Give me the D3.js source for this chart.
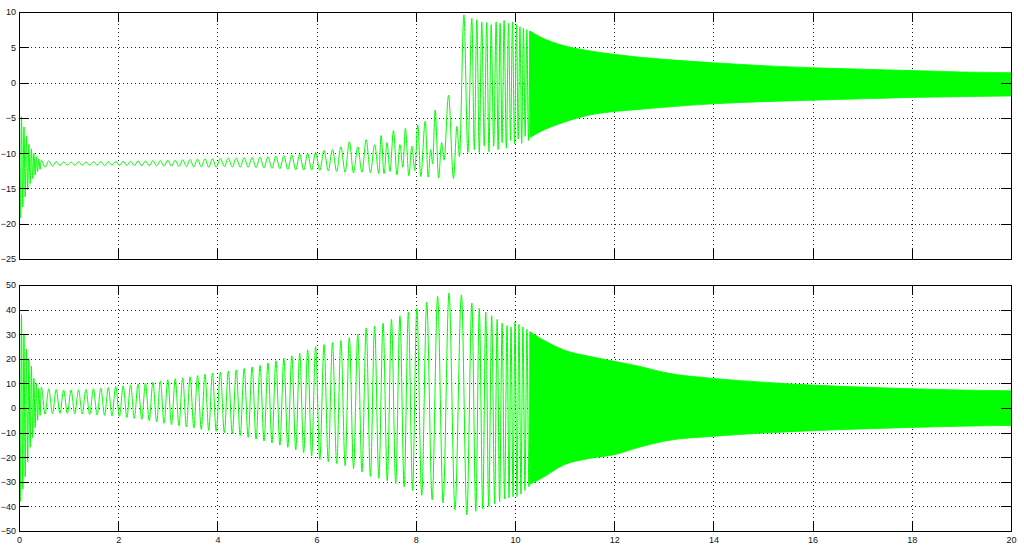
<!DOCTYPE html>
<html><head><meta charset="utf-8">
<script src="https://cdn.jsdelivr.net/npm/d3@7"></script>
<style>
html,body{margin:0;padding:0;background:#fff;}
svg{display:block;}
text{font-family:"Liberation Sans",Arial,sans-serif;}
</style></head>
<body><svg id="c" width="1024" height="549"></svg>
<script>
// ---------- data ----------
const xTicks = [0,2,4,6,8,10,12,14,16,18,20];
const topYTicks = [-25,-20,-15,-10,-5,0,5,10];
const botYTicks = [-50,-40,-30,-20,-10,0,10,20,30,40,50];

// Top signal: successive extremes (time, value) of the sparse part
const topT = [0,0.025,0.05,0.075,0.1,0.125,0.15,0.175,0.2,0.225,0.25,0.275,0.3,0.325,0.35,0.375,0.4,0.425,
 0.45,0.525,0.6,0.675,0.75,0.825,0.9,0.975,1.05,1.125,1.2,1.275,1.35,1.425,1.5,1.575,1.65,1.725,1.8,1.875,1.95,2.025,
 2.1,2.175,2.25,2.325,2.4,2.475,2.55,2.625,2.7,2.775,2.85,2.925,3.0,3.075,3.15,3.225,3.3,3.375,3.45,3.525,3.6,3.675,3.75,3.825,3.9,3.975,
 4.06,4.14,4.22,4.3,4.38,4.46,4.54,4.62,4.7,4.78,4.86,4.94,5.02,5.1,5.18,5.26,5.34,5.42,5.5,5.58,5.66,5.74,5.82,5.9,5.98,6.065,
 6.15,6.235,6.32,6.405,6.49,6.575,6.66,6.745,6.83,6.915,7.0,7.085,7.17,7.255,
 7.30,7.36,7.42,7.48,7.55,7.62,7.68,7.74,7.79,7.86,7.92,7.98,8.04,8.10,8.19,8.25,8.30,8.34,8.39,8.46,8.52,8.57,8.66,8.76,8.83,8.88,
 8.97,9.05,9.13,9.18,9.23,9.28,9.33,9.38,9.43,9.475,9.52,9.57,9.62,9.66,9.70,9.74,9.78,9.825,9.87,9.91,9.95,9.99,10.03,10.065,10.10,10.135,10.17,10.205,10.24,10.27,10.30];
const topV = [0,-19.2,-4.8,-17.6,-6.3,-16.2,-7.6,-15.2,-8.7,-14.3,-9.4,-13.6,-10.0,-13.1,-10.5,-12.6,-10.8,-12.3,
 -11.0,-12.0,-11.1,-11.85,-11.2,-11.75,-11.25,-11.7,-11.25,-11.7,-11.2,-11.7,-11.25,-11.7,-11.2,-11.7,-11.2,-11.75,-11.2,-11.7,-11.15,-11.75,
 -11.15,-11.75,-11.15,-11.75,-11.1,-11.8,-11.1,-11.8,-11.05,-11.8,-11.05,-11.85,-11.0,-11.85,-11.0,-11.9,-10.95,-11.9,-10.9,-11.95,-10.85,-11.95,-10.8,-12.0,-10.8,-12.0,
 -10.75,-11.9,-10.7,-11.95,-10.7,-12.0,-10.65,-12.0,-10.6,-12.05,-10.55,-12.1,-10.5,-12.15,-10.45,-12.2,-10.35,-12.3,-10.25,-12.35,-10.15,-12.4,-10.05,-12.4,-9.9,-12.45,
 -9.6,-12.5,-9.5,-12.6,-9.1,-12.7,-8.4,-12.8,-9.1,-12.7,-8.1,-12.8,-8.8,-12.9,
 -7.5,-12.9,-8.5,-12.6,-6.8,-13.1,-8.8,-12.0,-6.5,-13.2,-9.0,-12.5,-6.0,-13.3,-5.5,-13.4,-9.5,-11.5,-3.9,-13.5,-8.5,-11.0,-1.8,-13.6,-6.2,-10.5,
 9.6,-9.9,9.1,-9.5,8.9,-9.9,8.6,-9.0,8.5,-9.8,8.2,-9.0,8.6,-9.5,8.4,-8.5,8.8,-9.3,8.4,-8.2,8.6,-8.7,8.2,-8.0,7.9,-8.6,7.7,-7.6,7.5,-8.2,7.3];
// Top signal: envelope of the dense part
const topEnvT = [10.3,10.5,11,11.5,12,12.5,13,14,15,16,17,18,19,20];
const topEnvHi = [7.3,6.5,5.2,4.5,4.0,3.6,3.3,2.8,2.4,2.1,1.9,1.7,1.5,1.4];
const topEnvLo = [-7.8,-7.0,-5.6,-4.6,-4.1,-3.8,-3.5,-3.0,-2.7,-2.5,-2.3,-2.1,-2.0,-1.9];

// Bottom signal: successive extremes (time, value) of the sparse part
const botT = [0,0.025,0.05,0.075,0.1,0.125,0.15,0.175,0.2,0.225,0.25,0.275,0.3,0.325,0.35,0.375,0.4,0.425,
 0.45,0.525,0.6,0.675,0.75,0.825,0.9,0.975,1.05,1.125,1.2,1.275,1.35,1.425,1.5,1.575,1.65,1.725,1.8,1.875,1.95,2.025,
 2.1,2.175,2.25,2.325,2.4,2.475,2.55,2.625,2.7,2.775,2.85,2.925,3.0,3.075,3.15,3.225,3.3,3.375,3.45,3.525,3.6,3.675,3.75,3.825,3.9,3.975,
 4.06,4.14,4.22,4.3,4.38,4.46,4.54,4.62,4.7,4.78,4.86,4.94,5.02,5.1,5.18,5.26,5.34,5.42,5.5,5.58,5.66,5.74,5.82,5.9,5.98,6.065,
 6.15,6.235,6.32,6.405,6.49,6.575,6.66,6.745,6.83,6.915,7.0,7.085,7.17,7.255,
 7.34,7.425,7.51,7.595,7.68,7.765,7.85,7.935,8.02,8.12,8.22,8.33,8.44,8.55,8.67,8.79,8.92,9.03,
 9.13,9.21,9.28,9.35,9.41,9.47,9.53,9.59,9.64,9.69,9.74,9.79,9.84,9.88,9.92,9.96,10.0,10.04,10.08,10.12,10.16,10.20,10.24,10.28,10.31];
const botV = [50,-38,38,-33,30,-28,24,-22,20,-16,17,-12,12,-8,10,-5,8,-3,
 8.5,-2.5,7.8,-2.3,7.5,-2.2,7.3,-2.2,7.3,-2.3,7.4,-2.4,7.6,-2.6,7.8,-2.8,8.1,-3.0,8.4,-3.2,8.8,-3.4,
 9.0,-3.8,9.4,-4.2,9.7,-4.6,10.1,-5.1,10.5,-5.6,11.0,-6.2,11.5,-6.8,11.9,-7.2,12.3,-7.7,12.7,-8.2,13.2,-8.7,13.7,-9.1,14.2,-9.5,
 14.5,-10.0,15.0,-10.6,15.5,-11.2,16.1,-11.9,16.7,-12.6,17.3,-13.4,18.3,-14.2,19.2,-15.1,20.2,-16.0,21.2,-17.0,22.3,-18.2,23.6,-19.5,25.0,-21.0,
 25.8,-21.8,26.6,-22.6,27.5,-23.5,28.6,-24.6,30.0,-26.0,32.5,-27.8,33.3,-28.6,
 34.5,-29.6,36.0,-30.8,37.5,-32.0,39.0,-33.5,40.5,-35.5,43,-37.3,45.4,-38.6,46.8,-41.3,46,-43.4,
 42.7,-42,40.5,-41,39,-40,37.5,-39,36,-38,34.5,-37,33.5,-36.5,33,-36,35,-36,34,-35,33,-33.5,32,-32,31];
// Bottom signal: envelope of the dense part
const botEnvT = [10.3,10.5,11,11.5,12,12.5,13,14,15,16,17,18,19,20];
const botEnvHi = [31,28.5,23.5,21,19,17,14.5,12,10.5,9.3,8.5,7.8,7.3,7];
const botEnvLo = [-31,-29,-23,-20.5,-19,-16,-13.5,-11.5,-10.2,-9.2,-8.5,-7.9,-7.4,-7.1];

// ---------- drawing ----------
const svg = d3.select("#c");
const GREEN = "#00ff00";
const x = d3.scaleLinear().domain([0,20]).range([19,1011]);

function panel(id, yDomain, yRange, yTicks, showX, tArr, vArr, eT, eHi, eLo){
  const y = d3.scaleLinear().domain(yDomain).range(yRange);
  const g = svg.append("g");
  const [yb, yt] = yRange;
  g.append("clipPath").attr("id","clip"+id).append("rect")
    .attr("x",x(0)).attr("y",yt).attr("width",x(20)-x(0)).attr("height",yb-yt);
  // grid
  const grid = g.append("g").attr("stroke","#222").attr("stroke-width",1)
    .attr("stroke-dasharray","1,3").attr("shape-rendering","crispEdges");
  grid.selectAll("line.v").data(xTicks.slice(1,-1)).join("line")
    .attr("x1",d=>Math.round(x(d))+0.5).attr("x2",d=>Math.round(x(d))+0.5).attr("y1",yt).attr("y2",yb);
  grid.selectAll("line.h").data(yTicks.slice(1,-1)).join("line")
    .attr("y1",d=>Math.round(y(d))+0.5).attr("y2",d=>Math.round(y(d))+0.5).attr("x1",x(0)).attr("x2",x(20));
  // data
  const dg = g.append("g").attr("clip-path","url(#clip"+id+")");
  const pts = tArr.map((t,i)=>[t,vArr[i]]);
  dg.append("path").datum(pts)
    .attr("d", d3.line().x(d=>x(d[0])).y(d=>y(d[1])).curve(d3.curveMonotoneX))
    .attr("fill","none").attr("stroke",GREEN).attr("stroke-width",1);
  const env = eT.map((t,i)=>[t,eHi[i],eLo[i]]);
  dg.append("path").datum(env)
    .attr("d", d3.area().x(d=>x(d[0])).y0(d=>y(d[2])).y1(d=>y(d[1])).curve(d3.curveMonotoneX))
    .attr("fill",GREEN).attr("stroke",GREEN).attr("stroke-width",0.8);
  // axes (inward ticks on all sides)
  const style = s => { s.selectAll("path,line").attr("stroke","#000").attr("shape-rendering","crispEdges");
    s.selectAll("text").attr("fill","#111").style("font-size","9px").style("font-family","'Liberation Sans',Arial,sans-serif"); };
  g.append("g").attr("transform",`translate(${x(0)},0)`)
    .call(d3.axisLeft(y).tickValues(yTicks).tickSizeInner(-10).tickSizeOuter(0).tickPadding(3)).call(style);
  g.append("g").attr("transform",`translate(${x(20)},0)`)
    .call(d3.axisRight(y).tickValues(yTicks).tickSizeInner(-10).tickSizeOuter(0).tickFormat("")).call(style);
  g.append("g").attr("transform",`translate(0,${yt})`)
    .call(d3.axisTop(x).tickValues(xTicks).tickSizeInner(-10).tickSizeOuter(0).tickFormat("")).call(style);
  const bx = d3.axisBottom(x).tickValues(xTicks).tickSizeInner(-10).tickSizeOuter(0).tickPadding(6);
  if(!showX) bx.tickFormat("");
  g.append("g").attr("transform",`translate(0,${yb})`).call(bx).call(style);
}

panel("t", [-25,10], [259,12], topYTicks, false, topT, topV, topEnvT, topEnvHi, topEnvLo);
panel("b", [-50,50], [531,285], botYTicks, true, botT, botV, botEnvT, botEnvHi, botEnvLo);
</script></body></html>
